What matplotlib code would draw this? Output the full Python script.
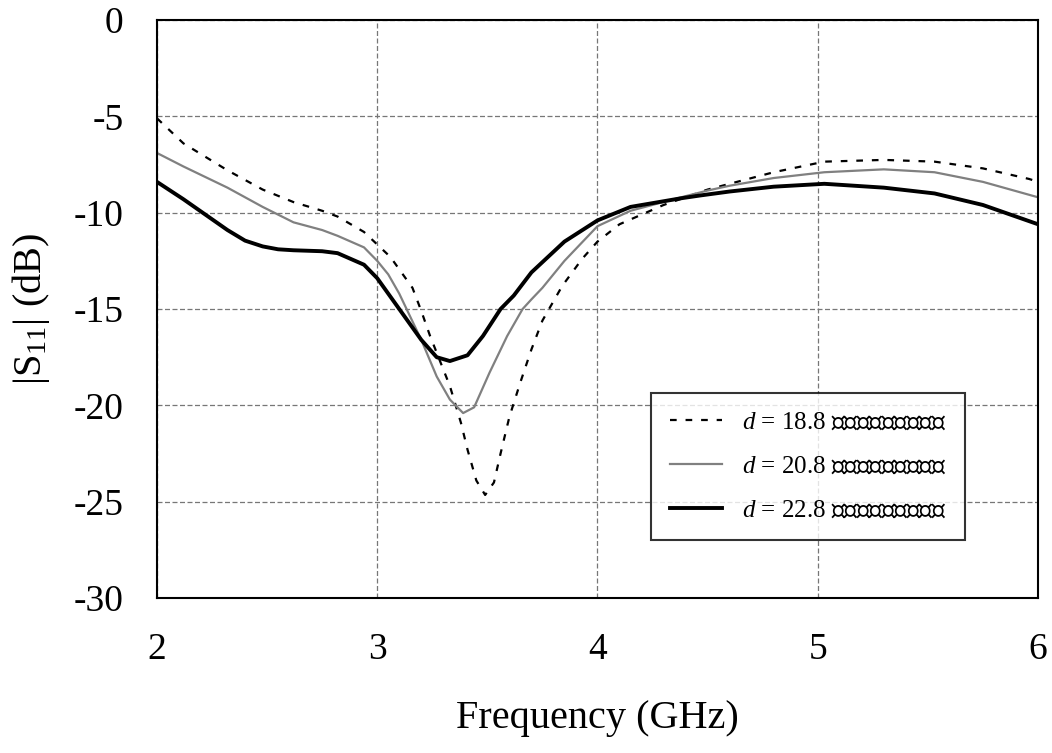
import matplotlib
matplotlib.use("Agg")
import matplotlib.pyplot as plt
from matplotlib import font_manager
from matplotlib.ft2font import FT2Font

# ---------------- data ----------------
f_188 = [2.0, 2.12, 2.32, 2.48, 2.62, 2.75, 2.82, 2.94, 3.06, 3.16, 3.2, 3.24, 3.33, 3.38,
         3.41, 3.45, 3.49, 3.53, 3.56, 3.60, 3.65, 3.70, 3.75, 3.84, 3.93, 4.0, 4.1, 4.23,
         4.3, 4.5, 4.8, 5.03, 5.3, 5.53, 5.75, 5.96, 6.0]
s_188 = [-5.1, -6.4, -7.8, -8.8, -9.45, -9.9, -10.2, -11.0, -12.3, -13.9, -15.1, -16.4, -19.0, -20.9,
         -22.3, -23.9, -24.65, -24.0, -22.5, -20.6, -18.8, -17.1, -15.6, -13.8, -12.4, -11.5, -10.6, -9.95,
         -9.6, -8.8, -7.9, -7.35, -7.26, -7.35, -7.7, -8.25, -8.4]

f_208 = [2.0, 2.12, 2.22, 2.32, 2.48, 2.62, 2.75, 2.82, 2.94, 3.0, 3.05, 3.1, 3.15, 3.2, 3.27, 3.33,
         3.39, 3.44, 3.51, 3.59, 3.66, 3.70, 3.75, 3.85, 4.0, 4.15, 4.38, 4.5, 4.6, 4.8, 5.03,
         5.3, 5.53, 5.75, 6.0]
s_208 = [-6.9, -7.6, -8.15, -8.7, -9.7, -10.5, -10.9, -11.2, -11.8, -12.5, -13.2, -14.2, -15.4, -16.6, -18.5, -19.7,
         -20.4, -20.1, -18.3, -16.4, -15.0, -14.5, -13.9, -12.5, -10.7, -9.9, -9.2, -8.85, -8.6, -8.2, -7.9,
         -7.75, -7.9, -8.4, -9.2]

f_228 = [2.0, 2.12, 2.22, 2.32, 2.40, 2.48, 2.55, 2.62, 2.75, 2.82, 2.94, 3.0, 3.05, 3.1, 3.15, 3.2, 3.27, 3.33,
         3.41, 3.48, 3.56, 3.62, 3.70, 3.85, 4.0, 4.15, 4.38, 4.47, 4.6, 4.8, 5.03, 5.3, 5.53,
         5.75, 6.0]
s_228 = [-8.4, -9.3, -10.1, -10.9, -11.45, -11.75, -11.9, -11.95, -12.0, -12.1, -12.7, -13.4, -14.2, -15.0, -15.8, -16.6, -17.5, -17.7,
         -17.4, -16.4, -15.0, -14.3, -13.1, -11.5, -10.4, -9.7, -9.25, -9.1, -8.9, -8.65, -8.5, -8.7, -9.0,
         -9.6, -10.6]

labels = ["$d$ = 18.8 มิลลิเมตร", "$d$ = 20.8 มิลลิเมตร", "$d$ = 22.8 มิลลิเมตร"]
x_ticks = [2, 3, 4, 5, 6]
y_ticks = [0, -5, -10, -15, -20, -25, -30]

# ---------------- fonts ----------------
thai_family = None
for fe in font_manager.fontManager.ttflist:
    try:
        if ord("ม") in FT2Font(fe.fname).get_charmap():
            thai_family = fe.name
            break
    except Exception:
        pass
families = ["Liberation Serif", "DejaVu Serif"]
if thai_family:
    families.append(thai_family)
plt.rcParams["font.family"] = families
plt.rcParams["mathtext.fontset"] = "custom"
plt.rcParams["mathtext.rm"] = "Liberation Serif"
plt.rcParams["mathtext.it"] = "Liberation Serif:italic"

# ---------------- figure ----------------
fig = plt.figure(figsize=(10.52, 7.53), dpi=100)
ax = fig.add_axes([0.1492, 0.2058, 0.8375, 0.7676])

ax.plot(f_188, s_188, color="black", lw=1.6, linestyle=(0, (3, 4)), label=labels[0])
ax.plot(f_208, s_208, color="#808080", lw=1.6, label=labels[1])
ax.plot(f_228, s_228, color="black", lw=2.8, label=labels[2])

ax.set_xlim(2, 6)
ax.set_ylim(-30, 0)
ax.set_xticks(x_ticks)
ax.set_yticks(y_ticks)
ax.set_xticklabels([str(v) for v in x_ticks])
ax.set_yticklabels([str(v) for v in y_ticks])
ax.tick_params(axis="both", length=0, labelsize=27)
ax.tick_params(axis="x", pad=25)
ax.tick_params(axis="y", pad=24)

ax.grid(True, color="#777777", lw=0.9, linestyle=(0, (4, 2)))
for sp in ax.spines.values():
    sp.set_linewidth(1.5)
    sp.set_color("black")

ax.set_xlabel("Frequency (GHz)", fontsize=29)
ax.set_ylabel("|S$_{11}$| (dB)", fontsize=29)
ax.xaxis.set_label_coords(0.5, -0.176)
ax.yaxis.set_label_coords(-0.119, 0.5)

leg = ax.legend(loc="lower left", bbox_to_anchor=(0.561, 0.100), fontsize=18,
                frameon=True, fancybox=False, shadow=False, handlelength=2.1,
                borderpad=0.75, labelspacing=0.85, handletextpad=0.8,
                borderaxespad=0.0)
leg.get_frame().set_edgecolor("black")
leg.get_frame().set_linewidth(1.5)

fig.savefig("out.png", dpi=100)
